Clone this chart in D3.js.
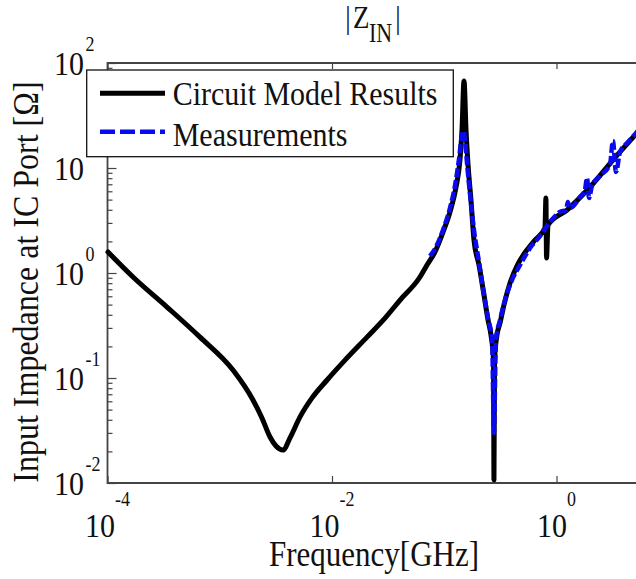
<!DOCTYPE html>
<html>
<head>
<meta charset="utf-8">
<script src="https://cdn.jsdelivr.net/npm/d3@7"></script>
<style>
    body { margin: 0; background: #fff; }
    svg { display: block; }
    text { font-family: "Liberation Serif", "Times New Roman", serif; fill: #111; }
</style>
</head>
<body>
<div id="chart"></div>
<script>
// circuit model |Zin| (GHz, ohm)
const modelFreq = [1.01e-4, 1.687e-4, 3.39e-4, 6.67e-4, 1.312e-3, 1.977e-3, 2.377e-3, 2.805e-3, 3.17e-3, 3.656e-3,
    4.227e-3, 5.19e-3, 6.64e-3, 9.04e-3, 0.01306, 0.0205, 0.02965, 0.0404, 0.0608, 0.0702,
    0.0826, 0.0975, 0.1125, 0.127, 0.138, 0.1439, 0.150, 0.1563, 0.163, 0.173,
    0.184, 0.204, 0.226, 0.2455, 0.2606, 0.2748, 0.2773, 0.2805, 0.295, 0.314,
    0.3404, 0.3855, 0.454, 0.546, 0.643, 0.789, 0.805, 0.815, 0.840, 1.24,
    1.99, 3.18, 5.11, 6.14]
const modelZ = [1.585, 0.916, 0.474, 0.245, 0.119, 0.0617, 0.0416, 0.0274, 0.0225, 0.0206,
    0.0269, 0.0426, 0.0646, 0.0957, 0.148, 0.245, 0.372, 0.553, 0.916, 1.191,
    1.585, 2.455, 3.81, 6.46, 11.9, 23.0, 67.5, 23.0, 10.7, 4.95,
    2.06, 1.19, 0.617, 0.357, 0.257, 0.148, 0.0107, 0.148, 0.257, 0.334,
    0.496, 0.803, 1.22, 1.66, 2.06, 2.69, 5.18, 1.39, 2.86, 3.98,
    6.59, 11.9, 21.1, 26.3]

// measured |Zin|
const measFreq = [0.0746, 0.0844, 0.0975, 0.1125, 0.125, 0.135, 0.144, 0.149, 0.153, 0.160,
    0.170, 0.184, 0.204, 0.226, 0.245, 0.267, 0.277, 0.289, 0.314, 0.348,
    0.402, 0.473, 0.581, 0.713, 0.875, 1.07, 1.22, 1.26, 1.32, 1.62,
    1.79, 1.87, 1.95, 2.07, 2.44, 3.00, 3.18, 3.39, 3.68, 4.34,
    5.11, 6.14]
const measZ = [1.45, 1.77, 2.57, 4.16, 6.89, 11.9, 20.6, 22.5, 18.5, 10.7,
    5.53, 2.57, 1.27, 0.617, 0.373, 0.230, 0.0299, 0.230, 0.357, 0.553,
    0.858, 1.19, 1.73, 2.25, 3.06, 3.81, 3.98, 4.74, 4.16, 5.30,
    6.17, 8.04, 5.18, 6.75, 8.39, 10.9, 18.1, 9.16, 14.2, 17.7,
    21.5, 27.4]

const xTicks = [1e-4, 1e-2, 1]
const xTickExps = ['-4', '-2', '0']
const yTicks = [1e-2, 1e-1, 1, 10, 100]
const yTickExps = ['-2', '-1', '0', '1', '2']
const legendLabels = ['Circuit Model Results', 'Measurements']
const titleMain = 'Z'
const titleSub = 'IN'
const xLabel = 'Frequency[GHz]'
const yLabel = 'Input Impedance at IC Port [\u03a9]'

const width = 636
const height = 579
const plot = { left: 107.5, right: 668.75, top: 63, bottom: 483 }

const x = d3.scaleLog().domain([1e-4, 10]).range([plot.left, plot.right])
const y = d3.scaleLog().domain([1e-2, 100]).range([plot.bottom, plot.top])

const svg = d3.select('#chart')
    .append('svg')
    .attr('width', width)
    .attr('height', height)
    .attr('xmlns', 'http://www.w3.org/2000/svg')

// text is drawn a little taller than the font's own shape
function addText(parent, str, tx, ty, size, anchor, sy, rot) {
    return parent.append('text')
        .attr('transform', `translate(${tx},${ty})` + (rot ? ` rotate(${rot})` : '') + ` scale(1,${sy})`)
        .attr('text-anchor', anchor)
        .style('font-size', size + 'px')
        .text(str)
}

// minor ticks on y
const yMinor = []
for (let e = -2; e < 2; e++) {
    for (let m = 2; m < 10; m++) yMinor.push(m * Math.pow(10, e))
}

const axisColor = '#444'

svg.append('g')
    .attr('transform', `translate(${plot.left},0)`)
    .call(d3.axisRight(y).tickValues(yMinor).tickSize(5).tickFormat(''))
svg.append('g')
    .attr('transform', `translate(${plot.left},0)`)
    .call(d3.axisRight(y).tickValues(yTicks).tickSize(9).tickFormat(''))
svg.append('g')
    .attr('transform', `translate(0,${plot.bottom})`)
    .call(d3.axisTop(x).tickValues(xTicks).tickSize(7).tickFormat(''))
svg.append('g')
    .attr('transform', `translate(0,${plot.top})`)
    .call(d3.axisBottom(x).tickValues(xTicks).tickSize(6).tickFormat(''))
svg.selectAll('.domain').remove()
svg.selectAll('.tick line').attr('stroke', axisColor).attr('stroke-width', 1.2)

// frame
svg.append('path')
    .attr('d', `M${plot.right},${plot.top}H${plot.left}V${plot.bottom}H${plot.right}`)
    .attr('fill', 'none')
    .attr('stroke', axisColor)
    .attr('stroke-width', 1.8)

const line = d3.line()
    .x(d => x(d[0]))
    .y(d => y(d[1]))
    .curve(d3.curveMonotoneX)

svg.append('path')
    .datum(d3.zip(modelFreq, modelZ))
    .attr('d', line)
    .attr('fill', 'none')
    .attr('stroke', '#000')
    .attr('stroke-width', 5)
    .attr('stroke-linejoin', 'round')
    .attr('stroke-linecap', 'round')

svg.append('path')
    .datum(d3.zip(measFreq, measZ))
    .attr('d', line)
    .attr('fill', 'none')
    .attr('stroke', '#0a0af0')
    .attr('stroke-width', 4.5)
    .attr('stroke-dasharray', '9,3')
    .attr('stroke-linejoin', 'round')

// y tick labels
yTicks.forEach((v, i) => {
    addText(svg, '10', 84, y(v) + 12, 30, 'end', 1.15)
    addText(svg, yTickExps[i], 85.5, y(v) - 12, 18, 'start', 1.15)
})

// x tick labels, base and exponent centred together on the tick
xTicks.forEach((v, i) => {
    const base = addText(svg, '10', 0, 537, 30, 'start', 1.12)
    const sup = addText(svg, xTickExps[i], 0, 506, 18, 'start', 1.12)
    const wb = base.node().getComputedTextLength()
    const ws = sup.node().getComputedTextLength()
    const x0 = x(v) - (wb + ws) / 2
    base.attr('transform', `translate(${x0},537) scale(1,1.12)`)
    sup.attr('transform', `translate(${x0 + wb},506) scale(1,1.12)`)
})

// legend
const lg = svg.append('g')
lg.append('rect')
    .attr('x', 86.7).attr('y', 70)
    .attr('width', 366.6).attr('height', 86.7)
    .attr('fill', '#fff')
    .attr('stroke', '#111')
    .attr('stroke-width', 1.3)
lg.append('line')
    .attr('x1', 100).attr('x2', 165).attr('y1', 93.3).attr('y2', 93.3)
    .attr('stroke', '#000').attr('stroke-width', 5)
lg.append('line')
    .attr('x1', 100).attr('x2', 165).attr('y1', 131.7).attr('y2', 131.7)
    .attr('stroke', '#0a0af0').attr('stroke-width', 4.5)
    .attr('stroke-dasharray', '15,5')
addText(lg, legendLabels[0], 172.7, 105, 30, 'start', 1.1)
addText(lg, legendLabels[1], 172.7, 145.7, 30, 'start', 1.1)

// title |Z_IN|
addText(svg, '|', 348, 28, 27, 'middle', 1.2)
addText(svg, titleMain, 353, 28, 27, 'start', 1.2)
addText(svg, titleSub, 369, 42, 22, 'start', 1.2)
addText(svg, '|', 398, 28, 27, 'middle', 1.2)

// axis titles
addText(svg, xLabel, 374, 566, 31, 'middle', 1.16)
addText(svg, yLabel, 38, 282, 32, 'middle', 1.12, -90)
</script>
</body>
</html>
